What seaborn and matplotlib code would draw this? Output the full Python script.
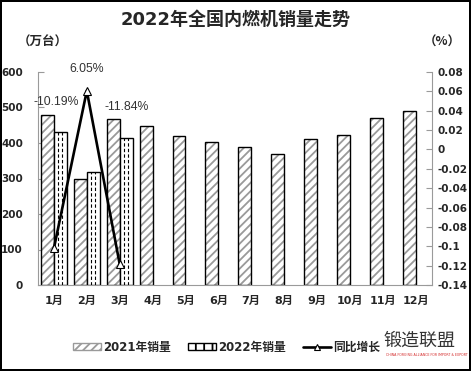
import matplotlib

matplotlib.use("Agg")
import matplotlib.pyplot as plt
from matplotlib.patches import Patch
from matplotlib.lines import Line2D
from matplotlib.colors import to_rgba
from matplotlib.ticker import FuncFormatter, MultipleLocator
import numpy as np
import pandas as pd
import seaborn as sns

months = ["1月", "2月", "3月", "4月", "5月", "6月", "7月", "8月", "9月", "10月", "11月", "12月"]
sales_2021 = [479, 298, 467, 448, 419, 402, 388, 368, 410, 422, 470, 489]
sales_2022 = [431, 317, 413, None, None, None, None, None, None, None, None, None]
growth = [-0.1019, 0.0605, -0.1184]
growth_labels = ["-10.19%", "6.05%", "-11.84%"]
series_names = ["2021年销量", "2022年销量"]
line_name = "同比增长"

sns.set_theme(style="white")
plt.rcParams["font.family"] = ["DejaVu Sans", "Noto Sans CJK SC"]
plt.rcParams["hatch.linewidth"] = 1.3

df = pd.DataFrame(
    {
        "month": months * 2,
        "series": [series_names[0]] * 12 + [series_names[1]] * 12,
        "value": sales_2021 + sales_2022,
    }
).dropna()

fig = plt.figure(figsize=(4.71, 3.71), dpi=100, linewidth=1.5, edgecolor="black")
ax = fig.add_axes([37.5 / 471, 1 - 285 / 371, (432 - 37.5) / 471, (285 - 72) / 371])

sns.barplot(
    data=df,
    x="month",
    y="value",
    hue="series",
    order=months,
    hue_order=series_names,
    palette=["white", "white"],
    width=0.78,
    errorbar=None,
    legend=False,
    ax=ax,
)

grey = "#9a9a9a"
for patch in ax.containers[0]:
    patch.set_hatch("////")
    patch.set_edgecolor("black")
    patch.set_linewidth(1.0)
    patch._hatch_color = to_rgba(grey)
for patch in ax.containers[1]:
    patch.set_edgecolor("black")
    patch.set_linewidth(1.0)
    x0, w, h = patch.get_x(), patch.get_width(), patch.get_height()
    ax.vlines([x0 + w / 3, x0 + 2 * w / 3], 0, h, colors="black",
              linestyles=(0, (3, 2)), linewidth=0.8, zorder=patch.get_zorder() + 0.1)

ax.set_ylim(0, 600)
ax.set_xlim(-0.5, 11.5)
ax.yaxis.set_major_locator(MultipleLocator(100))
ax.set_xlabel("")
ax.set_ylabel("")
ax.set_xticks(range(len(months)))
ax.set_xticklabels(months, fontweight="bold", fontsize=8)
ax.set_xticks(np.arange(0.5, 11.5, 1), minor=True)
ax.tick_params(axis="x", which="major", length=0, pad=8)
ax.tick_params(axis="x", which="minor", length=4, direction="in", color=grey, width=0.8)
ax.tick_params(axis="y", direction="in", length=4, color=grey, width=0.8, pad=10.5, labelsize=7.5)
for lbl in ax.get_yticklabels():
    lbl.set_fontweight("bold")
for side in ["top", "right"]:
    ax.spines[side].set_visible(False)
for side in ["left", "bottom"]:
    ax.spines[side].set_color(grey)
    ax.spines[side].set_linewidth(0.8)

ax2 = ax.twinx()
ax2.plot(range(len(growth)), growth, color="black", linewidth=1.9, marker="^",
         markersize=6, markerfacecolor="white", markeredgecolor="black", markeredgewidth=0.8)
ax2.set_ylim(-0.14, 0.08)
ax2.yaxis.set_major_locator(MultipleLocator(0.02))
ax2.yaxis.set_major_formatter(FuncFormatter(lambda v, _p: f"{round(v, 2):g}" if abs(v) > 1e-9 else "0"))
ax2.tick_params(axis="y", direction="in", length=4, color=grey, width=0.8, pad=4, labelsize=7.5)
for lbl in ax2.get_yticklabels():
    lbl.set_fontweight("bold")
for side in ["top", "left", "bottom"]:
    ax2.spines[side].set_visible(False)
ax2.spines["right"].set_color(grey)
ax2.spines["right"].set_linewidth(0.8)
ax2.grid(False)

label_pos = [(0.08, 0.049), (1.0, 0.083), (2.2, 0.044)]
for i, (txt, pos) in enumerate(zip(growth_labels, label_pos)):
    ax2.annotate(txt, xy=(i, growth[i]), xytext=pos, ha="center", va="center",
                 fontsize=8.8, color="#333333", family=["Liberation Sans", "DejaVu Sans"])

fig.text(0.5, 1 - 20 / 371, "2022年全国内燃机销量走势", ha="center", va="center",
         fontsize=13, fontweight="bold")
cjk = ["Noto Sans CJK SC", "DejaVu Sans"]
fig.text(18 / 471, 1 - 42 / 371, "（万台）", ha="left", va="center", fontsize=9,
         fontweight="bold", family=cjk)
fig.text(424 / 471, 1 - 42 / 371, "（%）", ha="left", va="center", fontsize=9,
         fontweight="bold", family=cjk)

handles = [
    Patch(facecolor="white", edgecolor=grey, hatch="////", linewidth=1.0),
    Patch(facecolor="white", edgecolor="black", hatch="||", linewidth=1.0),
    Line2D([], [], color="black", linewidth=1.9, marker="^", markersize=5,
           markerfacecolor="white", markeredgecolor="black", markeredgewidth=0.8),
]
leg = fig.legend(handles, series_names + [line_name], loc="center left",
                 bbox_to_anchor=(62 / 471, 1 - 347 / 371),
                 ncol=3, frameon=False, handlelength=2.4, handleheight=0.6, handletextpad=0.2,
                 columnspacing=1.4, prop={"weight": "bold", "size": 8.5})

fig.text(383 / 471, 1 - 341 / 371, "锻造联盟", ha="left", va="center", fontsize=13,
         color="#333333", family=cjk)
fig.text(386 / 471, 1 - 355 / 371, "CHINA FORGING ALLIANCE FOR IMPORT & EXPORT", ha="left",
         va="center", fontsize=2.3, color="#d42a2a")

fig.savefig("out.png", dpi=100)
